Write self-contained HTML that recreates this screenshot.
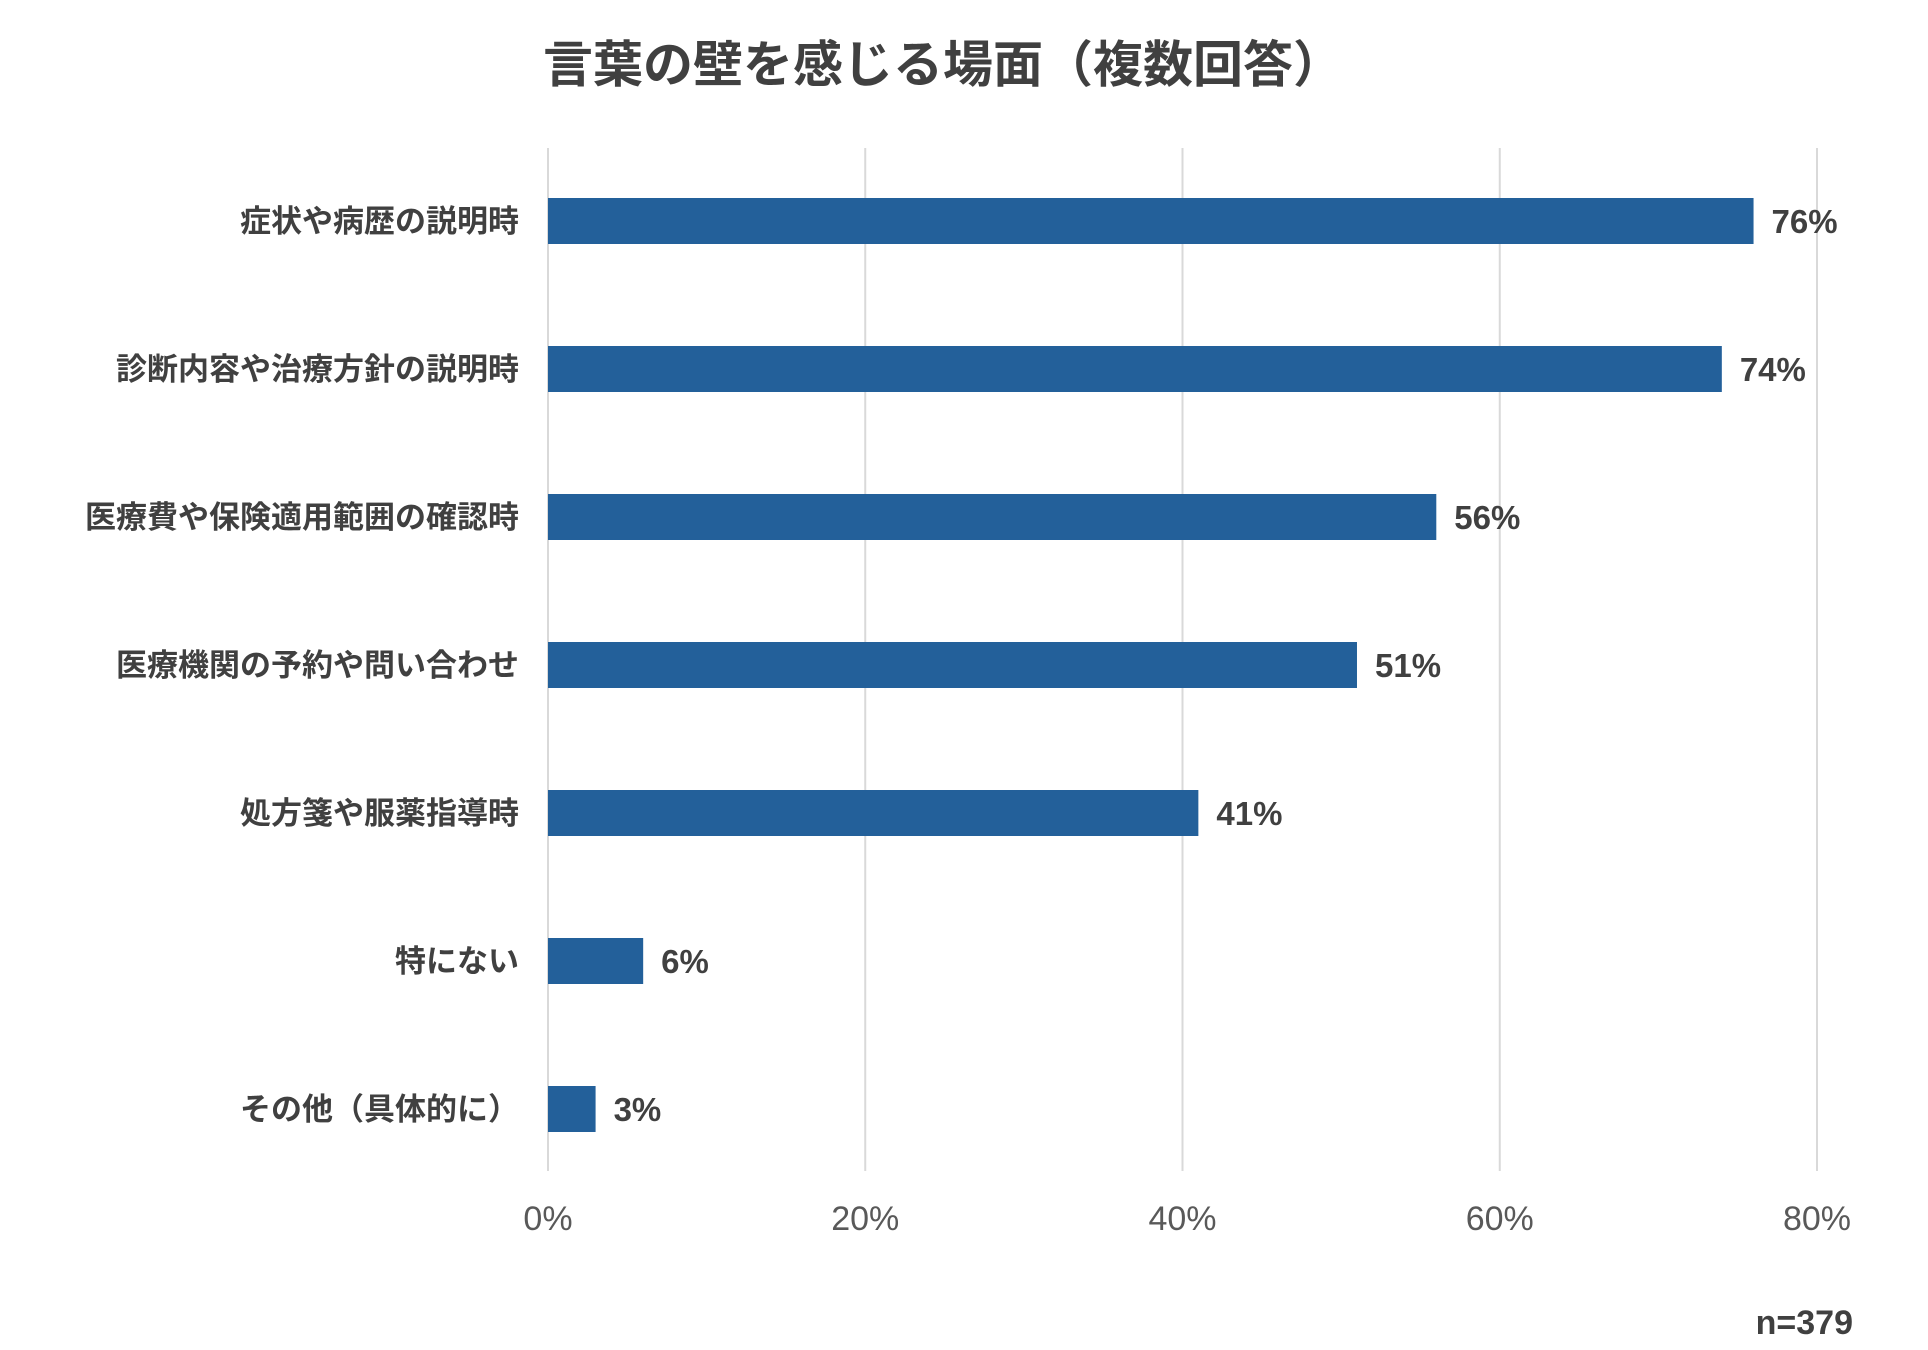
<!DOCTYPE html>
<html><head><meta charset="utf-8"><style>
body{margin:0;background:#fff;}
svg{display:block;font-family:"Liberation Sans","Noto Sans CJK JP",sans-serif;}
</style></head><body>
<svg id="chart" width="1928" height="1350">
<text x="943" y="82" text-anchor="middle" font-size="50" font-weight="bold" fill="#404040">言葉の壁を感じる場面（複数回答）</text>
<g id="grid"></g><g id="bars"></g>
<text x="1853" y="1334" text-anchor="end" font-size="34" font-weight="bold" fill="#404040">n=379</text>
</svg>
<script>
const categories=["症状や病歴の説明時","診断内容や治療方針の説明時","医療費や保険適用範囲の確認時","医療機関の予約や問い合わせ","処方箋や服薬指導時","特にない","その他（具体的に）"];
const values=[76,74,56,51,41,6,3];
const ticks=[0,20,40,60,80];
const ns="http://www.w3.org/2000/svg";
const x0=548,x80=1817;
const xs=v=>x0+(x80-x0)*v/80;
const yc=i=>221+i*148;
const grid=document.getElementById('grid'),bars=document.getElementById('bars');
function mk(tag,attrs,p){const e=document.createElementNS(ns,tag);for(const k in attrs)e.setAttribute(k,attrs[k]);p.appendChild(e);return e;}
ticks.forEach(t=>{
 const l=mk('line',{x1:xs(t),x2:xs(t),y1:148,y2:1171,stroke:'#d9d9d9','stroke-width':2},grid);
 
 
 const tx=mk('text',{x:xs(t),y:1230,'text-anchor':'middle','font-size':34,fill:'#595959'},grid);
 tx.textContent=t+'%';
 
 
});
categories.forEach((c,i)=>{
 const y=yc(i);
 const r=mk('rect',{x:x0,y:y-23,width:xs(values[i])-x0,height:46,fill:'#23609a'},bars);
 
 
 const lb=mk('text',{x:519,y:y+11,'text-anchor':'end','font-size':31,'font-weight':'bold',fill:'#404040'},bars);
 lb.textContent=c;
 
 
 const v=mk('text',{x:xs(values[i])+18,y:y+12,'font-size':33,'font-weight':'bold',fill:'#404040'},bars);
 v.textContent=values[i]+'%';
 
 
});
</script>
</body></html>
